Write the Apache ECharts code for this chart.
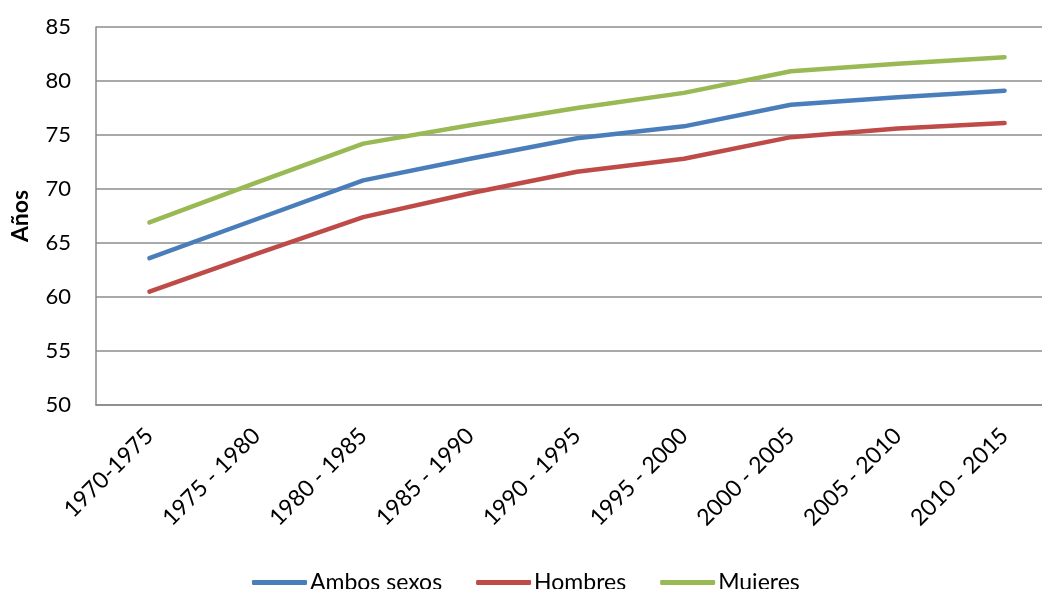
<!DOCTYPE html>
<html>
<head>
<meta charset="utf-8">
<script src="https://cdn.jsdelivr.net/npm/echarts@6/dist/echarts.min.js"></script>
<style>
  html, body { margin: 0; padding: 0; background: #fff; overflow: hidden; }
  /* the drawing surface is slightly wider than the window so the plot runs off the right edge */
  #chart { width: 1058px; height: 589px; }
</style>
</head>
<body>
<div id="chart"></div>
<script>
// Esperanza de vida al nacer por quinquenio
const periodos = ['1970-1975', '1975 - 1980', '1980 - 1985', '1985 - 1990', '1990 - 1995',
                  '1995 - 2000', '2000 - 2005', '2005 - 2010', '2010 - 2015'];
const ambosSexos = [63.6, 67.2, 70.8, 72.8, 74.7, 75.8, 77.8, 78.5, 79.1];
const hombres    = [60.5, 64.0, 67.4, 69.6, 71.6, 72.8, 74.8, 75.6, 76.1];
const mujeres    = [66.9, 70.6, 74.2, 75.9, 77.5, 78.9, 80.9, 81.6, 82.2];

const fontFam = 'Lato, "Open Sans", sans-serif';
const chart = echarts.init(document.getElementById('chart'));

function linea(nombre, datos, color) {
  return {
    name: nombre,
    type: 'line',
    data: datos,
    symbol: 'none',
    smooth: false,
    lineStyle: { color: color, width: 4.5, cap: 'round', join: 'round' },
    itemStyle: { color: color }
  };
}

chart.setOption({
  animation: false,
  textStyle: { fontFamily: fontFam },
  grid: { left: 96, top: 27, right: 0, height: 378, containLabel: false },
  xAxis: {
    type: 'category',
    data: periodos,
    boundaryGap: true,
    axisLine: { lineStyle: { color: '#888888', width: 1.5 } },
    axisTick: { show: false },
    axisLabel: { rotate: 45, color: '#000', fontSize: 23, margin: 27, fontFamily: fontFam }
  },
  yAxis: {
    type: 'value',
    min: 50, max: 85, interval: 5,
    name: 'Años',
    nameLocation: 'middle',
    nameGap: 64,
    nameRotate: 90,
    nameTextStyle: { fontWeight: 'bold', fontSize: 23, color: '#000', fontFamily: fontFam },
    axisLine: { show: true, lineStyle: { color: '#888888', width: 1.5 } },
    axisTick: { show: false },
    axisLabel: { color: '#000', fontSize: 22, margin: 25, fontFamily: fontFam },
    splitLine: { lineStyle: { color: '#8c8c8c', width: 1.5 } }
  },
  legend: {
    top: 566,
    left: 247,
    itemWidth: 55,
    itemHeight: 5,
    itemGap: 34,
    icon: 'roundRect',
    textStyle: { fontSize: 23, color: '#000', fontFamily: fontFam, padding: [0, 0, 0, -2] },
    data: ['Ambos sexos', 'Hombres', 'Mujeres']
  },
  series: [
    linea('Ambos sexos', ambosSexos, '#4A7EBB'),
    linea('Hombres', hombres, '#BE4B48'),
    linea('Mujeres', mujeres, '#98B954')
  ]
});
</script>
</body>
</html>
